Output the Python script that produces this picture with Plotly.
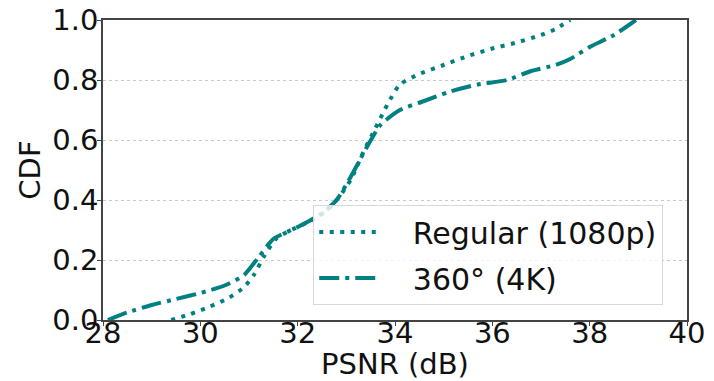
import plotly.graph_objects as go

# Regular (1080p) CDF
reg_x = [29.4, 29.8, 30.2, 30.6, 30.9, 31.1, 31.3, 31.55, 31.8, 32.2, 32.6, 32.85, 33.1, 33.35,
         33.6, 33.85, 34.1, 34.5, 35.0, 35.5, 36.0, 36.5, 37.0, 37.3, 37.6]
reg_y = [0.0, 0.02, 0.045, 0.075, 0.11, 0.15, 0.21, 0.27, 0.295, 0.325, 0.365, 0.41, 0.47, 0.56,
         0.64, 0.72, 0.785, 0.82, 0.85, 0.88, 0.905, 0.925, 0.95, 0.97, 1.0]

# 360° (4K) CDF
vr_x = [28.1, 28.5, 29.0, 29.5, 30.0, 30.5, 30.9, 31.2, 31.5, 32.0, 32.5, 32.8, 33.1, 33.4, 33.7,
        34.1, 34.6, 35.1, 35.7, 36.3, 36.8, 37.3, 37.6, 38.0, 38.5, 38.95]
vr_y = [0.0, 0.025, 0.05, 0.07, 0.09, 0.115, 0.15, 0.21, 0.27, 0.31, 0.355, 0.40, 0.48, 0.57, 0.65,
        0.70, 0.73, 0.76, 0.785, 0.80, 0.83, 0.85, 0.87, 0.91, 0.95, 1.0]

x_ticks = [28, 30, 32, 34, 36, 38, 40]
y_ticks = [0.0, 0.2, 0.4, 0.6, 0.8, 1.0]

color = "#008080"
font = "DejaVu Sans"
pad = "\u00a0\u00a0\u00a0"

fig = go.Figure()
fig.add_trace(go.Scatter(x=reg_x, y=reg_y, mode="lines", name=pad + "Regular (1080p)",
                         legendgroup="a",
                         line=dict(color=color, width=4, dash="4px,6.5px", shape="spline", smoothing=0.6)))
fig.add_trace(go.Scatter(x=vr_x, y=vr_y, mode="lines", name=pad + "360° (4K)",
                         legendgroup="b",
                         line=dict(color=color, width=4, dash="20px,6px,4px,6px", shape="spline", smoothing=0.6)))

axis_common = dict(showline=True, linecolor="#444", linewidth=1.5, mirror=True,
                   ticks="outside", ticklen=4, tickcolor="#444",
                   tickfont=dict(family=font, size=29, color="#111"), zeroline=False)

fig.update_xaxes(range=[28, 40], tickvals=x_ticks, ticktext=[str(v) for v in x_ticks],
                 showgrid=False, ticklabelstandoff=-18,
                 title=dict(text="PSNR (dB)", font=dict(family=font, size=29, color="#111"), standoff=4),
                 automargin=False, **axis_common)
fig.update_yaxes(range=[0, 1], tickvals=y_ticks, ticktext=[f"{v:.1f}" for v in y_ticks],
                 showgrid=True, gridcolor="#c8c8c8", griddash="dot", gridwidth=1,
                 ticklabelstandoff=-7,
                 title=dict(text="CDF", font=dict(family=font, size=29, color="#111"), standoff=3),
                 automargin=False, **axis_common)

fig.update_layout(
    width=714, height=381,
    margin=dict(l=103, r=27, t=20, b=61),
    plot_bgcolor="white", paper_bgcolor="white",
    showlegend=True,
    legend=dict(x=0.36, y=0.383, xanchor="left", yanchor="top",
                bgcolor="rgba(255,255,255,0.8)", bordercolor="#d8d8d8", borderwidth=1,
                font=dict(family=font, size=30, color="#111"), itemwidth=60,
                traceorder="grouped", tracegroupgap=4),
    hovermode=False,
)

fig.write_html("out.html", config={"displayModeBar": False})
